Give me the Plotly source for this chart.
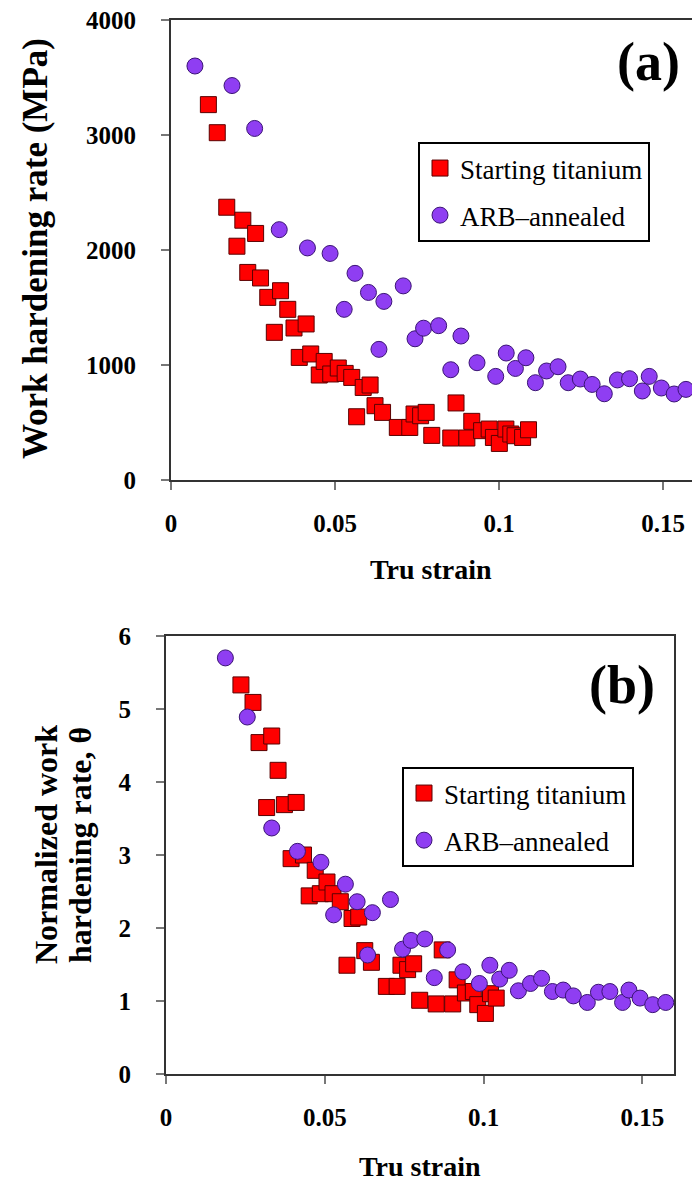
import plotly.graph_objects as go

# ---------- data (a) ----------
a_ti_x = [0.0114, 0.0141, 0.0170, 0.0201, 0.0219, 0.0234, 0.0258, 0.0273, 0.0295, 0.0315,
          0.0334, 0.0356, 0.0375, 0.0391, 0.0412, 0.0426, 0.0452, 0.0467, 0.0487, 0.0510,
          0.0531, 0.0551, 0.0566, 0.0586, 0.0607, 0.0622, 0.0645, 0.0690, 0.0728, 0.0741,
          0.0761, 0.0778, 0.0795, 0.0853, 0.0869, 0.0902, 0.0917, 0.0947, 0.0970, 0.0983,
          0.1001, 0.1021, 0.1036, 0.1049, 0.1072, 0.1090]
a_ti_y = [3264, 3020, 2372, 2033, 2259, 1805, 2144, 1757, 1588, 1284,
          1646, 1484, 1322, 1066, 1357, 1096, 913, 1031, 922, 974,
          927, 892, 550, 805, 826, 646, 588, 457, 457, 574,
          559, 588, 388, 365, 670, 365, 510, 429, 443, 370,
          318, 443, 400, 385, 370, 437]
a_arb_x = [0.0073, 0.0186, 0.0255, 0.0330, 0.0416, 0.0485, 0.0528, 0.0561, 0.0602, 0.0634,
           0.0649, 0.0708, 0.0744, 0.0770, 0.0816, 0.0853, 0.0884, 0.0933, 0.0990, 0.1022,
           0.1050, 0.1082, 0.1111, 0.1145, 0.1180, 0.1211, 0.1248, 0.1284, 0.1321, 0.1361,
           0.1398, 0.1437, 0.1458, 0.1495, 0.1534, 0.1570]
a_arb_y = [3600, 3430, 3057, 2177, 2018, 1970, 1484, 1797, 1631, 1136,
           1553, 1688, 1228, 1320, 1342, 959, 1252, 1020, 901, 1104,
           970, 1063, 846, 948, 985, 846, 878, 831, 750, 870,
           881, 774, 901, 800, 748, 788]

# ---------- data (b) ----------
b_ti_x = [0.0236, 0.0274, 0.0293, 0.0317, 0.0333, 0.0353, 0.0373, 0.0394, 0.0410, 0.0433,
          0.0451, 0.0470, 0.0486, 0.0507, 0.0526, 0.0549, 0.0570, 0.0586, 0.0607, 0.0626,
          0.0647, 0.0694, 0.0728, 0.0740, 0.0761, 0.0780, 0.0799, 0.0851, 0.0870, 0.0903,
          0.0917, 0.0943, 0.0968, 0.0982, 0.1006, 0.1022, 0.1040]
b_ti_y = [5.33, 5.09, 4.54, 3.65, 4.63, 4.16, 3.69, 2.95, 3.72, 3.00,
          2.44, 2.79, 2.47, 2.63, 2.47, 2.36, 1.49, 2.13, 2.15, 1.69,
          1.53, 1.20, 1.20, 1.49, 1.43, 1.51, 1.01, 0.96, 1.70, 0.96,
          1.29, 1.11, 1.13, 0.95, 0.83, 1.10, 1.04]
b_arb_x = [0.0187, 0.0256, 0.0333, 0.0414, 0.0488, 0.0528, 0.0565, 0.0602, 0.0635, 0.0650,
           0.0707, 0.0745, 0.0772, 0.0815, 0.0845, 0.0887, 0.0935, 0.0987, 0.1020, 0.1051,
           0.1081, 0.1110, 0.1148, 0.1183, 0.1217, 0.1251, 0.1283, 0.1327, 0.1362, 0.1398,
           0.1438, 0.1458, 0.1493, 0.1533, 0.1574]
b_arb_y = [5.70, 4.89, 3.37, 3.05, 2.90, 2.18, 2.60, 2.36, 1.63, 2.21,
           2.39, 1.71, 1.83, 1.85, 1.32, 1.70, 1.40, 1.24, 1.49, 1.30,
           1.42, 1.14, 1.24, 1.31, 1.13, 1.15, 1.07, 0.98, 1.12, 1.13,
           0.98, 1.15, 1.04, 0.95, 0.98]

x_ticks = [0, 0.05, 0.1, 0.15]
x_ticktext = ["0", "0.05", "0.1", "0.15"]
a_y_ticks = [0, 1000, 2000, 3000, 4000]
b_y_ticks = [0, 1, 2, 3, 4, 5, 6]

names = ["Starting titanium", "ARB\u2013annealed"]

W, H = 692, 1187
SERIF = "Liberation Serif, Times New Roman, serif"
RED = "#FF0000"
RED_EDGE = "#5a0000"
PUR = "#8F3EF2"
PUR_EDGE = "#3b1475"

sq = dict(symbol="square", size=16, color=RED, line=dict(color=RED_EDGE, width=1))
ci = dict(symbol="circle", size=16, color=PUR, line=dict(color=PUR_EDGE, width=1))

fig = go.Figure()
fig.add_trace(go.Scatter(x=a_ti_x, y=a_ti_y, mode="markers", marker=sq, name=names[0],
                         xaxis="x", yaxis="y", legend="legend", legendgroup="a1"))
fig.add_trace(go.Scatter(x=a_arb_x, y=a_arb_y, mode="markers", marker=ci, name=names[1],
                         xaxis="x", yaxis="y", legend="legend", legendgroup="a2"))
fig.add_trace(go.Scatter(x=b_ti_x, y=b_ti_y, mode="markers", marker=sq, name=names[0],
                         xaxis="x2", yaxis="y2", legend="legend2", legendgroup="b1"))
fig.add_trace(go.Scatter(x=b_arb_x, y=b_arb_y, mode="markers", marker=ci, name=names[1],
                         xaxis="x2", yaxis="y2", legend="legend2", legendgroup="b2"))

def px_x(p):
    return p / W

def px_y(p):
    return 1 - p / H

tickfont = dict(family=SERIF, size=25, color="black", weight="bold")
common_x = dict(tickvals=x_ticks, ticktext=x_ticktext, ticks="outside", ticklen=8,
                tickcolor="#777", tickwidth=1.5, showline=True, linecolor="#333",
                linewidth=2, showgrid=False, zeroline=False, tickfont=tickfont,
                ticklabelstandoff=12, mirror=True, automargin=False)
common_y = dict(ticks="outside", ticklen=8, tickcolor="#777", tickwidth=1.5,
                showline=True, linecolor="#333", linewidth=2, showgrid=False,
                zeroline=False, tickfont=tickfont, ticklabelstandoff=20, automargin=False)

leg_common = dict(xanchor="left", yanchor="top", bordercolor="black", borderwidth=2,
                  bgcolor="white", font=dict(family=SERIF, size=27, color="black"),
                  tracegroupgap=9, itemwidth=30)

fig.update_layout(
    width=W, height=H, margin=dict(l=0, r=0, t=0, b=0, pad=0, autoexpand=False),
    plot_bgcolor="white", paper_bgcolor="white",
    xaxis=dict(domain=[px_x(171), 1.0], range=[0, (W - 171) / 3280], anchor="y", **common_x),
    yaxis=dict(domain=[px_y(480), px_y(20)], range=[0, 4000], tickvals=a_y_ticks,
               anchor="x", mirror=False, **common_y),
    xaxis2=dict(domain=[px_x(166), px_x(674)], range=[0, 0.16], anchor="y2", **common_x),
    yaxis2=dict(domain=[px_y(1074), px_y(636)], range=[0, 6], tickvals=b_y_ticks,
                anchor="x2", mirror=True, **common_y),
    legend=dict(x=px_x(418), y=px_y(142), **leg_common),
    legend2=dict(x=px_x(402), y=px_y(767), **leg_common),
    showlegend=True,
)

ann_font = dict(family=SERIF, color="black", weight="bold")
annotations = [
    dict(text="Tru strain", x=px_x(431), y=px_y(570), font=dict(size=28, **ann_font)),
    dict(text="Tru strain", x=px_x(420), y=px_y(1166), font=dict(size=28, **ann_font)),
    dict(text="Work hardening rate (MPa)", x=px_x(36), y=px_y(249), textangle=-90,
         font=dict(size=35, **ann_font)),
    dict(text="Normalized work", x=px_x(46), y=px_y(845), textangle=-90,
         font=dict(size=32, **ann_font)),
    dict(text="hardening rate, \u03b8", x=px_x(80), y=px_y(845), textangle=-90,
         font=dict(size=32, **ann_font)),
    dict(text="(a)", x=px_x(648), y=px_y(62), font=dict(size=54, **ann_font)),
    dict(text="(b)", x=px_x(622), y=px_y(685), font=dict(size=54, **ann_font)),
]
for a in annotations:
    a.update(xref="paper", yref="paper", showarrow=False, xanchor="center", yanchor="middle")
fig.update_layout(annotations=annotations)

fig.write_html("out.html", config={"displayModeBar": False},
               post_script="document.body.style.margin='0';document.body.style.overflow='hidden';")
